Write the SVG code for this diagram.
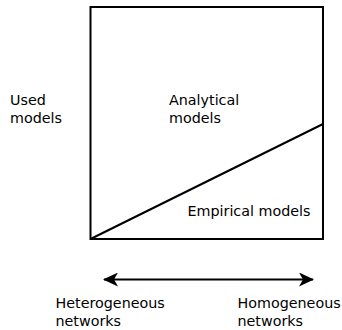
<svg xmlns="http://www.w3.org/2000/svg" width="342" height="330" viewBox="0 0 342 330">
<style>
text{font-family:"DejaVu Sans",sans-serif;font-size:14.3px;fill:#000}
.ln{stroke:#000;stroke-width:2;fill:none}
</style>
<defs>
<marker id="ah" markerWidth="16" markerHeight="14" refX="14" refY="7" orient="auto-start-reverse" markerUnits="userSpaceOnUse">
<path d="M0,0 L15,7 L0,14 L4,7 Z" fill="#000"/>
</marker>
</defs>
<rect width="342" height="330" fill="#fff"/>
<g id="box">
<rect class="ln" x="90.5" y="7" width="232.5" height="232"/>
</g>
<g id="connectors">
<line class="ln" x1="90.5" y1="239" x2="323" y2="124"/>
<line class="ln" x1="104" y1="279.5" x2="313" y2="279.5" marker-start="url(#ah)" marker-end="url(#ah)"/>
</g>
<g id="used"><text x="10" y="105">Used</text><text x="10" y="123">models</text></g>
<g id="analytical"><text x="169" y="105">Analytical</text><text x="169" y="123">models</text></g>
<g id="empirical"><text x="187.5" y="216">Empirical models</text></g>
<g id="hetero"><text x="55.5" y="308">Heterogeneous</text><text x="55.5" y="326">networks</text></g>
<g id="homo"><text x="237.5" y="308">Homogeneous</text><text x="237.5" y="326">networks</text></g>
</svg>
